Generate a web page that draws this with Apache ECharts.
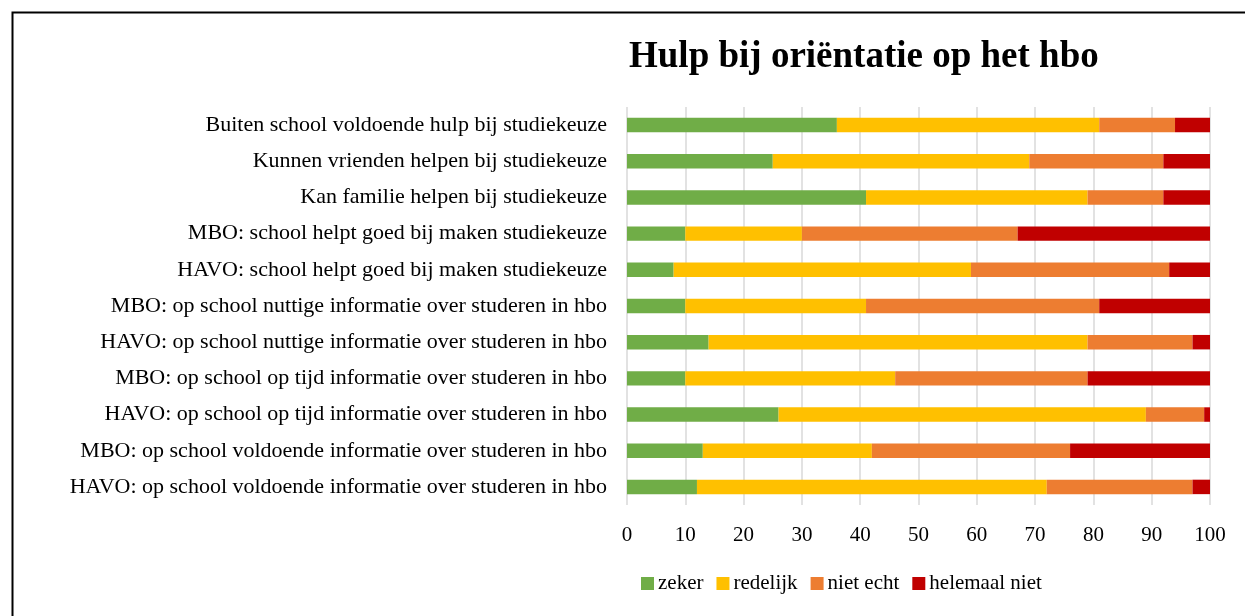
<!DOCTYPE html>
<html>
<head>
<meta charset="utf-8">
<script src="https://cdn.jsdelivr.net/npm/echarts@6/dist/echarts.min.js"></script>
<style>
html,body{margin:0;padding:0;background:#fff;}
#chart{width:1245px;height:616px;}
</style>
</head>
<body>
<div id="chart"></div>
<script>
const title = 'Hulp bij oriëntatie op het hbo';
const categories = [
  'Buiten school voldoende hulp bij studiekeuze',
  'Kunnen vrienden helpen bij studiekeuze',
  'Kan familie helpen bij studiekeuze',
  'MBO: school helpt goed bij maken studiekeuze',
  'HAVO: school helpt goed bij maken studiekeuze',
  'MBO: op school nuttige informatie over studeren in hbo',
  'HAVO: op school nuttige informatie over studeren in hbo',
  'MBO: op school op tijd informatie over studeren in hbo',
  'HAVO: op school op tijd informatie over studeren in hbo',
  'MBO: op school voldoende informatie over studeren in hbo',
  'HAVO: op school voldoende informatie over studeren in hbo'
];
const zeker        = [36, 25, 41, 10,  8, 10, 14, 10, 26, 13, 12];
const redelijk     = [45, 44, 38, 20, 51, 31, 65, 36, 63, 29, 60];
const nietEcht     = [13, 23, 13, 37, 34, 40, 18, 33, 10, 34, 25];
const helemaalNiet = [ 6,  8,  8, 33,  7, 19,  3, 21,  1, 24,  3];
const seriesNames = ['zeker', 'redelijk', 'niet echt', 'helemaal niet'];
const xTicks = [0, 10, 20, 30, 40, 50, 60, 70, 80, 90, 100];

const colors = ['#70AD47', '#FFC000', '#ED7D31', '#C00000'];
const font = '"Liberation Serif", "Times New Roman", serif';
const chart = echarts.init(document.getElementById('chart'));
const data = [zeker, redelijk, nietEcht, helemaalNiet];
chart.setOption({
  animation: false,
  backgroundColor: '#fff',
  textStyle: { fontFamily: font },
  title: {
    text: title,
    left: 624, top: 34,
    textStyle: { fontFamily: font, fontSize: 37, fontWeight: 'bold', color: '#000' }
  },
  graphic: [{
    type: 'rect', left: 10, top: 10,
    shape: { width: 1260, height: 640 },
    style: { fill: 'none', stroke: '#000', lineWidth: 2 }
  }],
  legend: {
    data: seriesNames,
    left: 636, top: 568,
    itemWidth: 13, itemHeight: 13, itemGap: 13,
    icon: 'rect',
    textStyle: { fontFamily: font, fontSize: 21, color: '#000', padding: [0, 0, 0, -1] }
  },
  grid: { left: 627, right: 35, top: 107, bottom: 111, containLabel: false },
  xAxis: {
    type: 'value', min: xTicks[0], max: xTicks[xTicks.length - 1], interval: 10,
    axisLine: { show: false }, axisTick: { show: false },
    splitLine: { lineStyle: { color: '#d9d9d9', width: 1.5 } },
    axisLabel: { fontFamily: font, fontSize: 21, color: '#000', margin: 20 }
  },
  yAxis: {
    type: 'category', data: categories, inverse: true,
    axisLine: { show: false }, axisTick: { show: false },
    axisLabel: { fontFamily: font, fontSize: 22, color: '#000', margin: 20 }
  },
  series: seriesNames.map((n, i) => ({
    name: n, type: 'bar', stack: 'total', data: data[i],
    barWidth: '40%',
    itemStyle: { color: colors[i] }
  }))
});
</script>
</body>
</html>
